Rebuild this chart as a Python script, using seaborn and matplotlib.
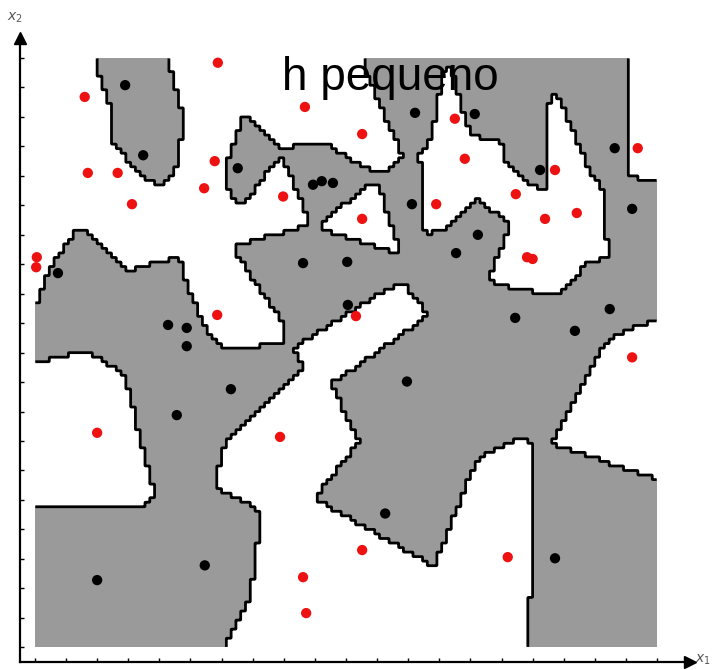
import numpy as np
import pandas as pd
import matplotlib
matplotlib.use("Agg")
import matplotlib.pyplot as plt
import seaborn as sns

# Sample points (unit square, origin bottom-left)
red_x = [0.294, 0.080, 0.434, 0.526, 0.289, 0.085, 0.133, 0.272, 0.399, 0.156,
         0.526, 0.003, 0.002, 0.293, 0.516, 0.675, 0.691, 0.969, 0.836, 0.645,
         0.773, 0.820, 0.871, 0.791, 0.800, 0.100, 0.394, 0.431, 0.436, 0.526,
         0.960, 0.760]
red_y = [0.992, 0.934, 0.917, 0.871, 0.825, 0.805, 0.805, 0.779, 0.765, 0.752,
         0.727, 0.662, 0.645, 0.564, 0.562, 0.897, 0.829, 0.847, 0.810, 0.752,
         0.769, 0.727, 0.737, 0.662, 0.659, 0.364, 0.357, 0.119, 0.058, 0.165,
         0.492, 0.153]

black_x = [0.145, 0.174, 0.326, 0.447, 0.461, 0.479, 0.431, 0.502, 0.037, 0.214,
           0.244, 0.503, 0.611, 0.707, 0.932, 0.812, 0.606, 0.960, 0.712, 0.677,
           0.772, 0.924, 0.868, 0.244, 0.315, 0.228, 0.273, 0.100, 0.598, 0.563,
           0.836]
black_y = [0.954, 0.835, 0.813, 0.785, 0.791, 0.788, 0.652, 0.654, 0.635, 0.547,
           0.542, 0.581, 0.907, 0.905, 0.847, 0.810, 0.752, 0.744, 0.700, 0.669,
           0.559, 0.574, 0.537, 0.511, 0.438, 0.394, 0.139, 0.114, 0.451, 0.227,
           0.151]

title = "h pequeno"
h = 0.02  # small Parzen window width

df = pd.concat([
    pd.DataFrame({"x1": red_x, "x2": red_y, "classe": "vermelho"}),
    pd.DataFrame({"x1": black_x, "x2": black_y, "classe": "preto"}),
])

# Parzen-window decision on a coarse grid (gives the blocky look)
n = 130
c = (np.arange(n) + 0.5) / n
cx, cy = np.meshgrid(c, c)


def log_density(px, py):
    px = np.asarray(px)[:, None, None]
    py = np.asarray(py)[:, None, None]
    d2 = (cx[None] - px) ** 2 + (cy[None] - py) ** 2
    e = -d2 / (2 * h * h)
    m = e.max(axis=0)
    return m + np.log(np.exp(e - m).sum(axis=0) / len(px))


mask = (log_density(black_x, black_y) > log_density(red_x, red_y)).astype(float)

# upsample cells so the contour follows the cell edges
k = 6
fine = np.kron(mask, np.ones((k, k)))
f = (np.arange(n * k) + 0.5) / (n * k)
fx, fy = np.meshgrid(f, f)

sns.set_style("white")
fig = plt.figure(figsize=(7.13, 6.70), dpi=100)
ax = fig.add_axes([20 / 713, 8 / 670, 670 / 713, 624 / 670])

ax.contourf(fx, fy, fine, levels=[0.5, 1.5], colors=["#9a9a9a"])
ax.contour(fx, fy, fine, levels=[0.5], colors="black", linewidths=2)

sns.scatterplot(data=df, x="x1", y="x2", hue="classe",
                palette={"vermelho": "#ee1111", "preto": "black"},
                s=55, linewidth=0, legend=False, ax=ax, zorder=3)

ax.set_xlim(-0.024, 1.053)
ax.set_ylim(-0.025, 1.034)
ax.set_xlabel("")
ax.set_ylabel("")
ax.set_xticks(np.arange(0, 1.001, 0.05))
ax.set_yticks(np.arange(0, 1.001, 0.05))
ax.tick_params(direction="in", length=3, width=1, colors="black",
               bottom=True, left=True, labelbottom=False, labelleft=False)
for s in ["top", "right"]:
    ax.spines[s].set_visible(False)
for s in ["left", "bottom"]:
    ax.spines[s].set_linewidth(1.6)
    ax.spines[s].set_color("black")

# axis arrows
ax.plot(1, 0, ">k", transform=ax.transAxes, clip_on=False, markersize=9)
ax.plot(0, 1, "^k", transform=ax.transAxes, clip_on=False, markersize=9)
fig.text(15 / 713, 1 - 18 / 670, "$x_2$", fontsize=10, color="#555555",
         ha="center", va="center", family="DejaVu Serif")
fig.text(703 / 713, 1 - 660 / 670, "$x_1$", fontsize=10, color="#555555",
         ha="center", va="center", family="DejaVu Serif")

fig.text(390 / 713, 1 - 78 / 670, title, fontsize=33, color="black",
         ha="center", va="center", family=["Liberation Sans", "DejaVu Sans"])

fig.savefig("out.png", dpi=100)
